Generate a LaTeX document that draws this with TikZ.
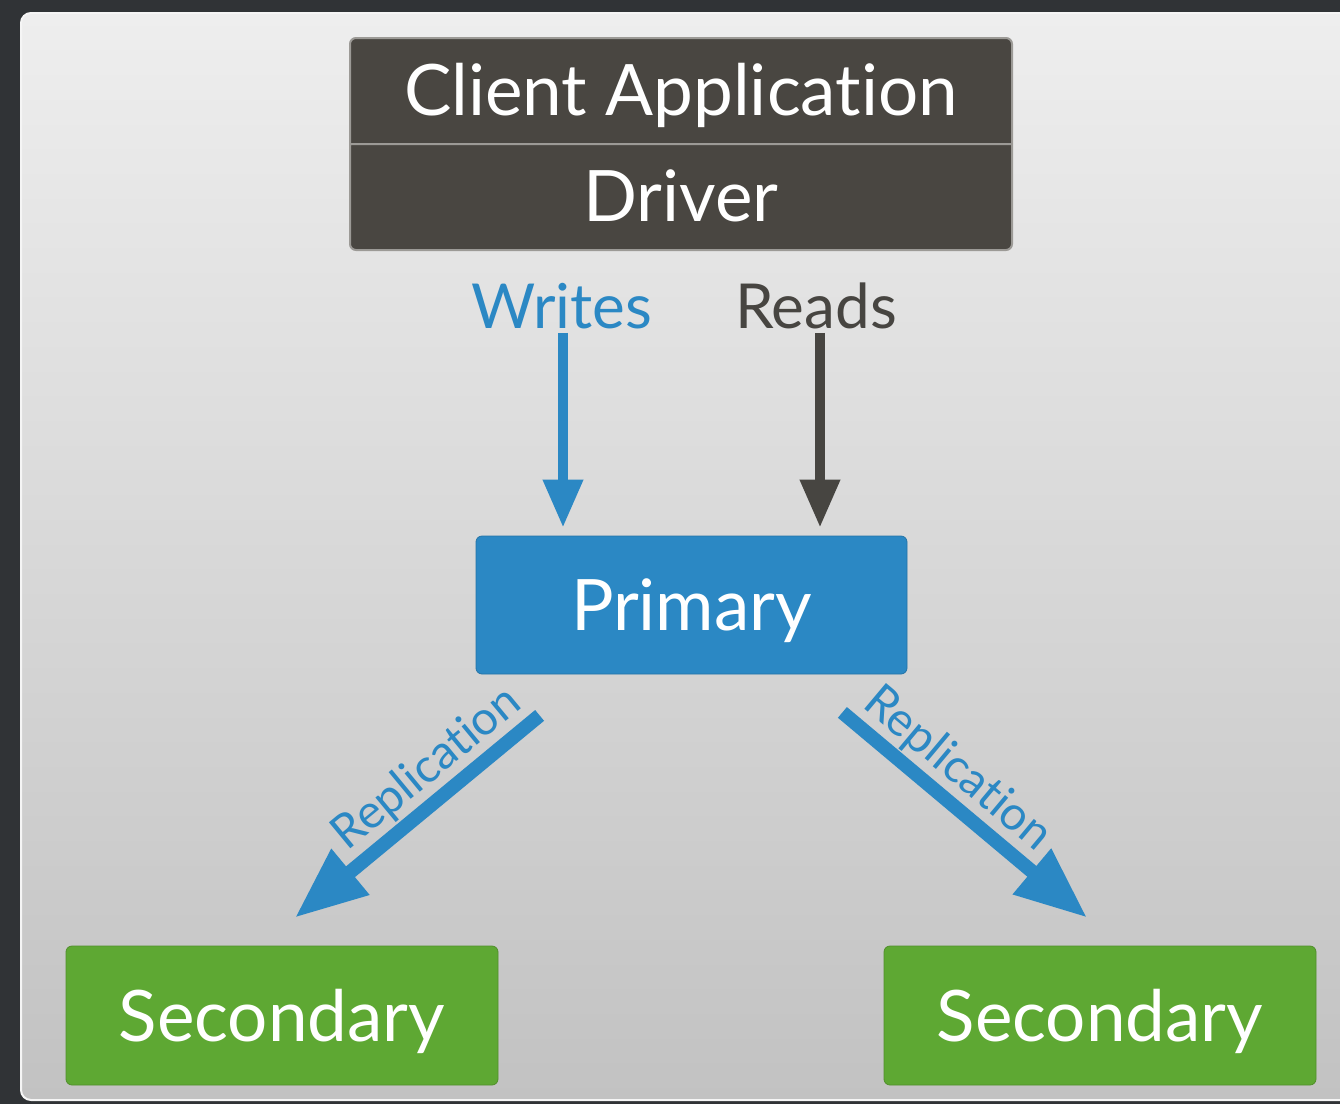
\documentclass[tikz,border=0pt]{standalone}
\usepackage{fontspec}
\setmainfont{Lato}[Ligatures=NoCommon]
\usetikzlibrary{arrows.meta,shapes.multipart}

\definecolor{bgdark}{HTML}{303336}
\definecolor{paneltop}{HTML}{EEEEEE}
\definecolor{panelbot}{HTML}{C2C2C2}
\definecolor{appgray}{HTML}{494641}
\definecolor{divgray}{HTML}{9C9A96}
\definecolor{primblue}{HTML}{2B88C4}
\definecolor{secgreen}{HTML}{5EA833}
\definecolor{readgray}{HTML}{474541}

\newcommand{\boxstrut}{\rule[-14pt]{0pt}{52pt}}

\begin{document}
\begin{tikzpicture}[x=0.5pt, y=-0.5pt,
		appbox/.style={rectangle split, rectangle split parts=2,
			fill=appgray, draw=divgray, line width=1pt, rounded corners=3pt,
			minimum width=331pt, inner ysep=0pt, text=white,
			font=\fontsize{35.5}{40}\selectfont},
		state/.style={rounded corners=3pt, text=white, inner sep=0pt,
			text height=25.5pt, text depth=0pt,
			font=\fontsize{35.5}{40}\selectfont},
		primary/.style={state, fill=primblue, draw=primblue!85!black, line width=0.4pt,
			minimum width=215.5pt, minimum height=69pt},
		secondary/.style={state, fill=secgreen, draw=secgreen!85!black, line width=0.4pt,
			minimum width=216pt, minimum height=69.5pt},
		oplabel/.style={inner sep=2pt, text height=22pt, text depth=0pt,
			font=\fontsize{31}{36}\selectfont},
		oparrow/.style={line width=5pt, -{Triangle[width=19pt,length=24pt]}, shorten >=4pt},
		reparrow/.style={line width=7pt, draw=primblue, -{Triangle[width=28pt,length=36pt]}},
		replabel/.style={text=primblue, inner sep=1pt, font=\fontsize{23.5}{28}\selectfont}]

	% background
	\fill[bgdark] (0,0) rectangle (1340,1104);
	\useasboundingbox (0,0) rectangle (1340,1104);
	\shade[top color=paneltop, bottom color=panelbot, draw=white!92!gray, line width=1pt,
		rounded corners=5pt] (21,13) rectangle (1350,1100);

	\node[appbox, anchor=north] (app) at (681,37)
		{\boxstrut Client Application\nodepart{second}\boxstrut Driver};

	\node[oplabel, text=primblue] (wr) at (562,306.5) {Writes};
	\node[oplabel, text=readgray] (rd) at (816,306.5) {Reads};

	\node[primary] (prim) at (691.5,605) {Primary};
	\node[secondary] (secl) at (282,1015.5) {Secondary};
	\node[secondary] (secr) at (1100,1015.5) {Secondary};

	\draw[oparrow, primblue] ([xshift=0.5pt]wr.south) -- ([xshift=0.5pt]wr.south |- prim.north);
	\draw[oparrow, readgray] ([xshift=2pt]rd.south) -- ([xshift=2pt]rd.south |- prim.north);

	\draw[reparrow] ([shift={(64,41)}]prim.south west) -- ([shift={(13,-28)}]secl.north)
		node[replabel, sloped, above, pos=0.38] {Replication};
	\draw[reparrow] ([shift={(-65,38)}]prim.south east) -- ([shift={(-13,-28)}]secr.north)
		node[replabel, sloped, above, pos=0.39] {Replication};
\end{tikzpicture}
\end{document}
